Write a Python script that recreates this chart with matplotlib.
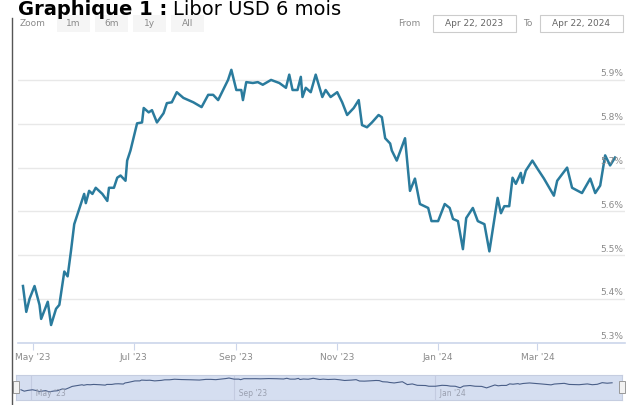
import numpy as np
import pandas as pd
import matplotlib
matplotlib.use('Agg')
import matplotlib.pyplot as plt
from matplotlib.patches import Rectangle
from matplotlib.lines import Line2D

# Libor USD 6 mois
dates = ['2023-04-25', '2023-04-27', '2023-04-29', '2023-05-02', '2023-05-05', '2023-05-06',
         '2023-05-10', '2023-05-12', '2023-05-15', '2023-05-17', '2023-05-20', '2023-05-22',
         '2023-05-24', '2023-05-26', '2023-05-30', '2023-06-01', '2023-06-02', '2023-06-04',
         '2023-06-06', '2023-06-08', '2023-06-12', '2023-06-15', '2023-06-16', '2023-06-19',
         '2023-06-21', '2023-06-23', '2023-06-26', '2023-06-27', '2023-06-29', '2023-07-03',
         '2023-07-06', '2023-07-07', '2023-07-10', '2023-07-12', '2023-07-15', '2023-07-19',
         '2023-07-21', '2023-07-24', '2023-07-27', '2023-07-31', '2023-08-06', '2023-08-11',
         '2023-08-15', '2023-08-18', '2023-08-21', '2023-08-24', '2023-08-27', '2023-08-29',
         '2023-09-01', '2023-09-04', '2023-09-05', '2023-09-07', '2023-09-11', '2023-09-14',
         '2023-09-17', '2023-09-22', '2023-09-27', '2023-10-01', '2023-10-03', '2023-10-05',
         '2023-10-08', '2023-10-10', '2023-10-11', '2023-10-13', '2023-10-16', '2023-10-19',
         '2023-10-23', '2023-10-25', '2023-10-28', '2023-11-01', '2023-11-04', '2023-11-07',
         '2023-11-11', '2023-11-14', '2023-11-16', '2023-11-19', '2023-11-22', '2023-11-26',
         '2023-11-28', '2023-11-30', '2023-12-03', '2023-12-04', '2023-12-07', '2023-12-12',
         '2023-12-15', '2023-12-18', '2023-12-21', '2023-12-26', '2023-12-28', '2024-01-01',
         '2024-01-05', '2024-01-08', '2024-01-10', '2024-01-13', '2024-01-16', '2024-01-18',
         '2024-01-22', '2024-01-25', '2024-01-29', '2024-02-01', '2024-02-06', '2024-02-08',
         '2024-02-10', '2024-02-13', '2024-02-15', '2024-02-17', '2024-02-20', '2024-02-21',
         '2024-02-23', '2024-02-27', '2024-03-01', '2024-03-05', '2024-03-11', '2024-03-13',
         '2024-03-19', '2024-03-22', '2024-03-28', '2024-04-02', '2024-04-05', '2024-04-08',
         '2024-04-11', '2024-04-14', '2024-04-17']
rates = [5.430, 5.371, 5.401, 5.430, 5.387, 5.355, 5.394, 5.341, 5.378, 5.387, 5.463, 5.452,
         5.509, 5.571, 5.617, 5.640, 5.619, 5.647, 5.640, 5.654, 5.640, 5.624, 5.654, 5.654,
         5.677, 5.682, 5.670, 5.716, 5.739, 5.801, 5.803, 5.836, 5.826, 5.831, 5.803, 5.824,
         5.847, 5.849, 5.872, 5.859, 5.849, 5.838, 5.866, 5.866, 5.854, 5.877, 5.900, 5.923,
         5.877, 5.877, 5.854, 5.895, 5.893, 5.895, 5.889, 5.900, 5.893, 5.882, 5.912, 5.877,
         5.877, 5.907, 5.861, 5.882, 5.872, 5.912, 5.861, 5.877, 5.861, 5.872, 5.849, 5.820,
         5.836, 5.854, 5.797, 5.792, 5.803, 5.820, 5.815, 5.767, 5.755, 5.739, 5.716, 5.767,
         5.647, 5.675, 5.617, 5.608, 5.578, 5.578, 5.617, 5.608, 5.583, 5.578, 5.514, 5.585,
         5.608, 5.578, 5.571, 5.509, 5.631, 5.596, 5.612, 5.612, 5.677, 5.663, 5.688, 5.665,
         5.693, 5.716, 5.698, 5.675, 5.636, 5.670, 5.700, 5.654, 5.642, 5.675, 5.642, 5.659,
         5.728, 5.705, 5.723]

yticks = [5.3, 5.4, 5.5, 5.6, 5.7, 5.8, 5.9]
xtick_dates = ['2023-05-01', '2023-07-01', '2023-09-01', '2023-11-01', '2024-01-01', '2024-03-01']
xtick_labels = ["May '23", "Jul '23", "Sep '23", "Nov '23", "Jan '24", "Mar '24"]
nav_dates = ['2023-05-01', '2023-09-01', '2024-01-01']
nav_labels = ["May '23", "Sep '23", "Jan '24"]
zoom_buttons = ['1m', '6m', '1y', 'All']
date_from = 'Apr 22, 2023'
date_to = 'Apr 22, 2024'
x_start, x_end = '2023-04-22', '2024-04-23'

W, H = 630, 405
def fx(px): return px / W
def fy(py): return 1 - py / H

line_col = '#2a7b9d'
lab_col = '#8a8a8a'

fig = plt.figure(figsize=(6.3, 4.05), dpi=100)
fig.patch.set_facecolor('white')

# main chart
ax = fig.add_axes([fx(18), fy(343), fx(625) - fx(18), fy(58) - fy(343)])
d = pd.to_datetime(dates)
ax.plot(d, rates, color=line_col, lw=1.8, solid_joinstyle='round', zorder=3)
ax.set_xlim(pd.Timestamp(x_start), pd.Timestamp(x_end))
ax.set_ylim(5.3, 5.95)
ax.set_yticks(yticks)
ax.yaxis.grid(True, color='#e8e8e8', lw=1)
ax.tick_params(axis='y', length=0, labelleft=False)
for v in yticks:
    ax.text(0.997, v + 0.004, '%.1f%%' % v, transform=ax.get_yaxis_transform(),
            ha='right', va='bottom', fontsize=6.5, color=lab_col, zorder=4)
ax.set_xticks(pd.to_datetime(xtick_dates))
ax.set_xticklabels(xtick_labels)
ax.tick_params(axis='x', length=5, color='#ccd6eb', labelsize=6.5, labelcolor=lab_col, pad=2)
for s in ['top', 'left', 'right']:
    ax.spines[s].set_visible(False)
ax.spines['bottom'].set_color('#ccd6eb')
ax.spines['bottom'].set_linewidth(1.2)

# navigator
nav = fig.add_axes([fx(16), fy(400), fx(622) - fx(16), fy(375) - fy(400)])
nav.set_facecolor('#d5def0')
nav.plot(d, rates, color='#4a5f88', lw=0.8)
nav.set_xlim(pd.Timestamp(x_start), pd.Timestamp(x_end))
nav.set_ylim(5.0, 6.05)
nav.set_xticks(pd.to_datetime(nav_dates))
nav.xaxis.grid(True, color='#c3cbe0', lw=0.8)
nav.tick_params(length=0, labelbottom=False, labelleft=False)
for nd, nl in zip(nav_dates, nav_labels):
    nav.text(pd.Timestamp(nd), 0.08, '  ' + nl, transform=nav.get_xaxis_transform(),
             ha='left', va='bottom', fontsize=5.5, color='#9aa0b0')
for s in nav.spines.values():
    s.set_color('#c5cde0')
for hx in [16, 622]:
    fig.add_artist(Rectangle((fx(hx - 3), fy(393)), 6 / W, 12 / H, transform=fig.transFigure,
                             facecolor='#f2f2f2', edgecolor='#999999', lw=0.7))

# toolbar
ty = 23.5
fig.text(fx(20), fy(ty), 'Zoom', fontsize=6.5, color=lab_col, va='center')
bx = 57
for b in zoom_buttons:
    fig.add_artist(Rectangle((fx(bx), fy(ty + 8)), 33 / W, 16 / H, transform=fig.transFigure,
                             facecolor='#f5f5f5', edgecolor='none'))
    fig.text(fx(bx + 16.5), fy(ty), b, fontsize=6.5, color=lab_col, ha='center', va='center')
    bx += 38
fig.text(fx(398), fy(ty), 'From', fontsize=6.5, color=lab_col, va='center')
fig.add_artist(Rectangle((fx(433), fy(ty + 8)), 83 / W, 16 / H, transform=fig.transFigure,
                         facecolor='white', edgecolor='#cccccc', lw=0.8))
fig.text(fx(474.5), fy(ty), date_from, fontsize=6.5, color='#666666', ha='center', va='center')
fig.text(fx(523), fy(ty), 'To', fontsize=6.5, color=lab_col, va='center')
fig.add_artist(Rectangle((fx(540), fy(ty + 8)), 83 / W, 16 / H, transform=fig.transFigure,
                         facecolor='white', edgecolor='#cccccc', lw=0.8))
fig.text(fx(581.5), fy(ty), date_to, fontsize=6.5, color='#666666', ha='center', va='center')

# left border of the screenshot
fig.add_artist(Line2D([fx(12), fx(12)], [fy(18), 0], transform=fig.transFigure,
                      color='#555555', lw=1))

# title
t1 = fig.text(fx(18), fy(15), 'Graphique 1 :', fontsize=14, fontweight='bold',
              color='black', va='baseline')
fig.canvas.draw()
bb = t1.get_window_extent()
fig.text((bb.x1 + 6) / W, fy(15), 'Libor USD 6 mois', fontsize=14, color='black', va='baseline')

fig.savefig('out.png', dpi=100)
